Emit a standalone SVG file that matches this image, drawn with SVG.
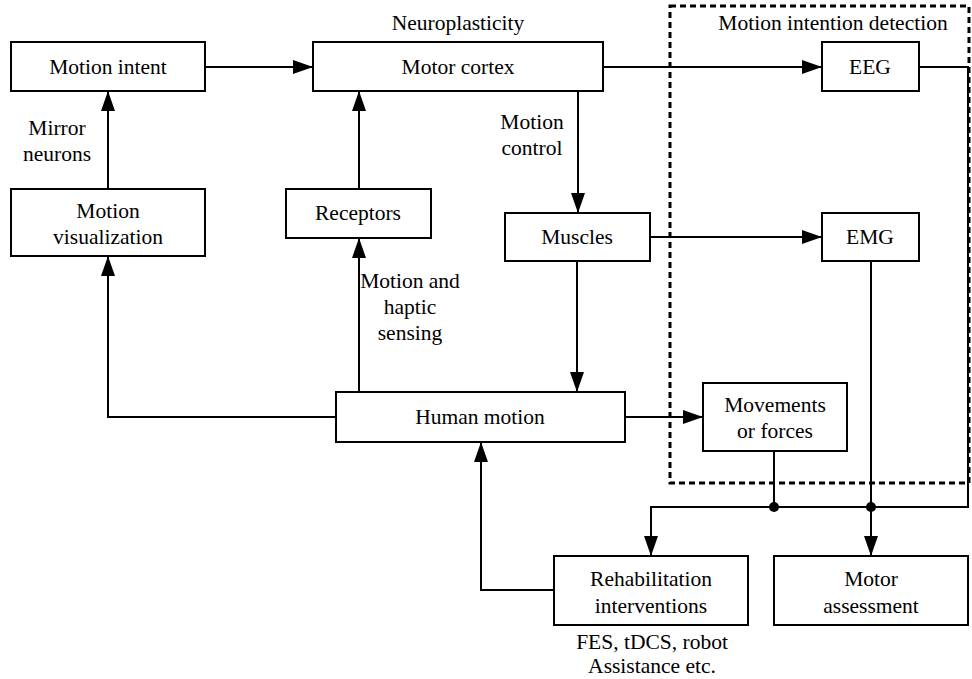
<svg xmlns="http://www.w3.org/2000/svg" width="972" height="679" viewBox="0 0 972 679">
<style>
.box{fill:#fff;stroke:#000;stroke-width:2}
.ln{fill:none;stroke:#000;stroke-width:2}
text{font-family:'Liberation Serif','Times New Roman',Times,serif;font-size:21.5px;fill:#000;text-anchor:middle}
</style>
<defs>
<marker id="ah" viewBox="0 0 20 14" refX="20" refY="7" markerWidth="20" markerHeight="14" markerUnits="userSpaceOnUse" orient="auto">
<path d="M0,0 L20,7 L0,14 Z" fill="#000"/>
</marker>
</defs>
<rect x="0" y="0" width="972" height="679" fill="#fff"/>
<rect x="670" y="6" width="299" height="477" fill="none" stroke="#000" stroke-width="3" stroke-dasharray="6,4"/>
<text x="833" y="30">Motion intention detection</text>
<text x="458" y="30">Neuroplasticity</text>
<g id="connectors">
<path class="ln" d="M205,67 H313" marker-end="url(#ah)"/>
<path class="ln" d="M603,67 H822" marker-end="url(#ah)"/>
<path class="ln" d="M108,189 V91" marker-end="url(#ah)"/>
<path class="ln" d="M359,189 V91" marker-end="url(#ah)"/>
<path class="ln" d="M578,91 V213" marker-end="url(#ah)"/>
<path class="ln" d="M650,237 H822" marker-end="url(#ah)"/>
<path class="ln" d="M577,261 V392" marker-end="url(#ah)"/>
<path class="ln" d="M359,392 V238" marker-end="url(#ah)"/>
<path class="ln" d="M336,417 H108 V256" marker-end="url(#ah)"/>
<path class="ln" d="M625,417 H703" marker-end="url(#ah)"/>
<path class="ln" d="M554,590 H481 V442" marker-end="url(#ah)"/>
<path class="ln" d="M919,67 H968 V507 H651 V556" marker-end="url(#ah)"/>
<path class="ln" d="M774,451 V507"/>
<path class="ln" d="M871,261 V556" marker-end="url(#ah)"/>
<circle cx="774" cy="507" r="5" fill="#000"/>
<circle cx="871" cy="507" r="5" fill="#000"/>
</g>
<g id="motion-intent"><rect class="box" x="11" y="42" width="194" height="49"/><text x="108" y="74">Motion intent</text></g>
<g id="motor-cortex"><rect class="box" x="313" y="42" width="290" height="49"/><text x="458" y="74">Motor cortex</text></g>
<g id="eeg"><rect class="box" x="822" y="42" width="97" height="49"/><text x="870" y="74">EEG</text></g>
<g id="motion-visualization"><rect class="box" x="11" y="189" width="194" height="67"/><text x="108" y="218">Motion</text><text x="108" y="244">visualization</text></g>
<g id="receptors"><rect class="box" x="286" y="189" width="145" height="49"/><text x="358" y="220">Receptors</text></g>
<g id="muscles"><rect class="box" x="505" y="213" width="145" height="48"/><text x="577" y="244">Muscles</text></g>
<g id="emg"><rect class="box" x="822" y="213" width="97" height="48"/><text x="870" y="244">EMG</text></g>
<g id="human-motion"><rect class="box" x="336" y="392" width="289" height="50"/><text x="480" y="424">Human motion</text></g>
<g id="movements"><rect class="box" x="703" y="383" width="144" height="68"/><text x="775" y="412">Movements</text><text x="775" y="438">or forces</text></g>
<g id="rehab"><rect class="box" x="554" y="556" width="194" height="69"/><text x="651" y="586">Rehabilitation</text><text x="651" y="613">interventions</text></g>
<g id="motor-assessment"><rect class="box" x="774" y="556" width="194" height="69"/><text x="871" y="586">Motor</text><text x="871" y="613">assessment</text></g>
<g id="labels">
<text x="57" y="135">Mirror</text><text x="57" y="161">neurons</text>
<text x="532" y="129">Motion</text><text x="532" y="155">control</text>
<text x="410" y="288">Motion and</text><text x="410" y="314">haptic</text><text x="410" y="340">sensing</text>
<text x="652" y="649">FES, tDCS, robot</text><text x="652" y="673">Assistance etc.</text>
</g>
</svg>
